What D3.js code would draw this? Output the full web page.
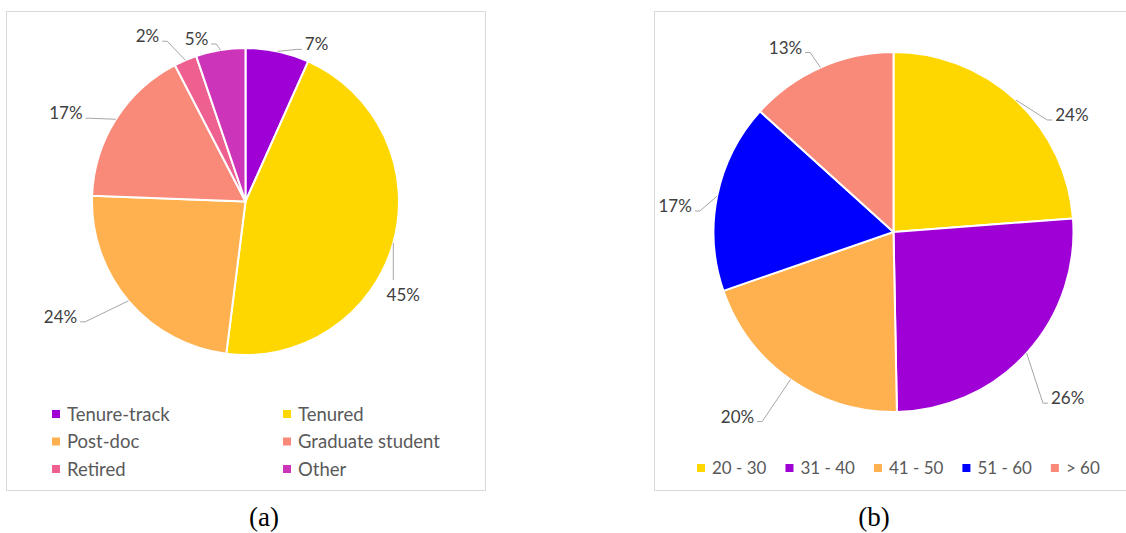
<!DOCTYPE html>
<html>
<head>
<meta charset="utf-8">
<script src="https://cdn.jsdelivr.net/npm/d3@7"></script>
<style>
  body { margin: 0; background: #fff; }
  svg { display: block; }
  .lbl { font-family: Lato, "Noto Sans", sans-serif; font-size: 17px; fill: #404040; }
  .leg { font-family: Lato, "Noto Sans", sans-serif; font-size: 17px; fill: #595959; }
  .leg-a { font-size: 18.5px; }
  .cap { font-family: "Liberation Serif", "DejaVu Serif", serif; font-size: 27px; fill: #000; }
</style>
</head>
<body>
<svg id="chart" width="1126" height="533"></svg>
<script>
// (a) position
const posCats = ["Tenure-track", "Tenured", "Post-doc", "Graduate student", "Retired", "Other"]
const posValues = [6.7, 45.3, 23.6, 16.8, 2.4, 5.2]
const posColors = ["#9E00D6", "#FFD700", "#FFB04F", "#F98978", "#EE6090", "#CC35BA"]

// (b) age
const ageCats = ["20 - 30", "31 - 40", "41 - 50", "51 - 60", "> 60"]
const ageValues = [23.8, 25.9, 20.0, 17.0, 13.3]
const ageColors = ["#FFD700", "#9E00D6", "#FFB04F", "#0000FF", "#F98978"]

// label placement, offset of the label centre from the slice edge
const posLabelOff = [[39, -7], [10, 52], [-68, 16], [-50, -6], [-38, -24], [-24, -11]]
const ageLabelOff = [[56, 15], [41, 45], [-53, 37], [-42, 10], [-35, -20]]

const svg = d3.select('#chart')
const fmt = d3.format('.0%')

// frames
svg.append('rect').attr('x', 6.5).attr('y', 11.5).attr('width', 479).attr('height', 479)
  .attr('fill', 'none').attr('stroke', '#D9D9D9')
svg.append('rect').attr('x', 654.5).attr('y', 11.5).attr('width', 480).attr('height', 479)
  .attr('fill', 'none').attr('stroke', '#D9D9D9')

const drawPie = (cx, cy, r, values, colors, offsets) => {
  const total = d3.sum(values)
  const arcs = d3.pie().sort(null)(values)
  const arc = d3.arc().innerRadius(0).outerRadius(r)
  const g = svg.append('g').attr('transform', 'translate(' + cx + ',' + cy + ')')

  g.selectAll('path')
    .data(arcs)
    .enter()
    .append('path')
    .attr('d', arc)
    .attr('fill', (d, i) => colors[i])
    .attr('stroke', '#fff')
    .attr('stroke-width', 2)
    .attr('stroke-linejoin', 'round')

  arcs.forEach((d, i) => {
    const a = (d.startAngle + d.endAngle) / 2
    const ex = Math.sin(a) * r
    const ey = -Math.cos(a) * r
    const lx = ex + offsets[i][0]
    const ly = ey + offsets[i][1]

    const t = g.append('text')
      .attr('class', 'lbl')
      .attr('text-anchor', 'middle')
      .attr('x', lx)
      .attr('y', ly + 6)
      .text(fmt(d.value / total))
    const w = t.node().getComputedTextLength()

    let pts
    if (Math.abs(offsets[i][0]) < 20) {
      pts = [[ex, ey], [ex, ly - 15]]
    } else {
      const side = offsets[i][0] > 0 ? -1 : 1
      const ax = lx + side * (w / 2 + 3)
      const ay = ly + 5
      pts = [[ex, ey], [ax + side * 5, ay], [ax, ay]]
    }
    g.append('path')
      .attr('d', d3.line()(pts))
      .attr('fill', 'none')
      .attr('stroke', '#A6A6A6')
      .attr('stroke-width', 1)
  })
}

drawPie(245.5, 201.5, 153.5, posValues, posColors, posLabelOff)
drawPie(893.5, 232, 180, ageValues, ageColors, ageLabelOff)

// legend (a), two columns
const legA = svg.append('g')
posCats.forEach((c, i) => {
  const x = i % 2 === 0 ? 52 : 283
  const y = 414 + Math.floor(i / 2) * 27.5
  legA.append('rect').attr('x', x).attr('y', y - 4).attr('width', 8).attr('height', 8).attr('fill', posColors[i])
  legA.append('text').attr('class', 'leg leg-a').attr('x', x + 15).attr('y', y + 6.5).text(c)
})

// legend (b), one row
const legB = svg.append('g')
let lx = 697
ageCats.forEach((c, i) => {
  const y = 468
  legB.append('rect').attr('x', lx).attr('y', y - 4).attr('width', 8).attr('height', 8).attr('fill', ageColors[i])
  const t = legB.append('text').attr('class', 'leg').attr('x', lx + 15).attr('y', y + 6).text(c)
  lx += 15 + t.node().getComputedTextLength() + 19
})

// captions
svg.append('text').attr('class', 'cap').attr('text-anchor', 'middle').attr('x', 264).attr('y', 526).text('(a)')
svg.append('text').attr('class', 'cap').attr('text-anchor', 'middle').attr('x', 874).attr('y', 526).text('(b)')
</script>
</body>
</html>
